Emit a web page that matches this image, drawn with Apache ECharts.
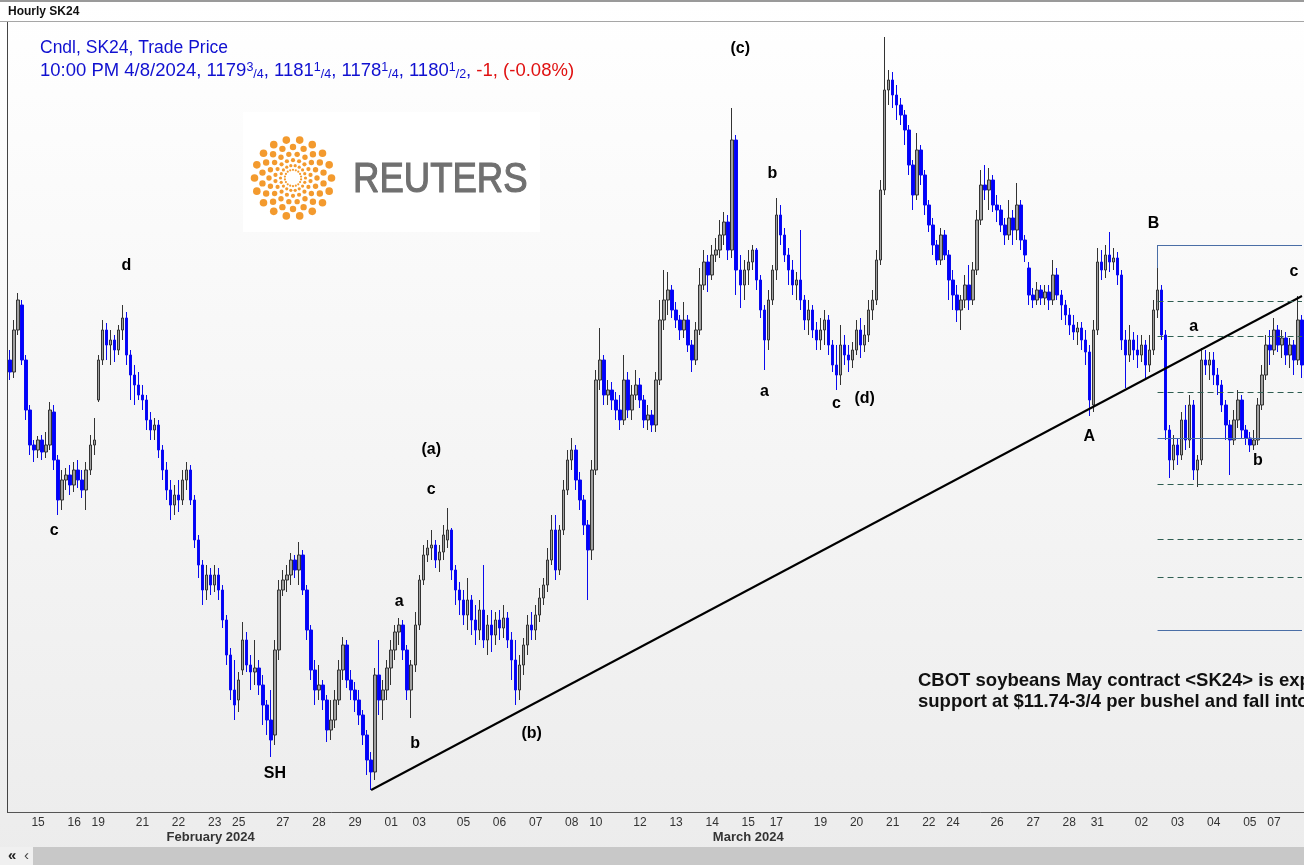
<!DOCTYPE html>
<html><head><meta charset="utf-8">
<script src="https://cdn.jsdelivr.net/npm/echarts@6/dist/echarts.min.js"></script>
<style>html,body{margin:0;padding:0;background:#fff;overflow:hidden}#c{width:1304px;height:865px}</style>
</head><body><div id="c"></div>
<script>
// ---- day labels on the time axis and number of hourly bars drawn for each ----
const dayLabels = ['14','15','16','19','21','22','23','25','27','28','29','01','03','05','06','07','08','10','12','13','14','15','17','19','20','21','22','24','26','27','28','31','02','03','04','05','07'];
const dayBarCounts = [7,9,6,11,9,9,6,11,9,9,9,7,11,9,9,9,6,11,9,9,9,7,11,9,9,9,6,11,9,9,7,11,9,9,9,6,8];
const monthNames = ['February 2024','March 2024'];
const monthLabelBar = [50, 184];
const monthStartBar = [95, 273];

// ---- candles: [open, close, low, high] ----
const bars = [
[1180,1178.8,1178,1181],[1178.8,1183,1178.2,1184],[1183,1186,1182.5,1186.7],[1185.5,1180,1179.5,1186],[1180,1175,1174,1180.5],[1175,1171.5,1170.5,1175.5],[1171.5,1171,1169.8,1172],
[1171,1172,1170.2,1172.4],[1172,1170.8,1170,1172.5],[1170.8,1171.5,1170.2,1172.8],[1171.5,1175,1171,1175.8],[1174.8,1170,1169,1175.5],[1170,1166,1164.5,1170.5],[1166,1168,1165,1169],[1168,1168.5,1167,1169.2],[1168.5,1167.5,1166.5,1169.5],
[1167.5,1169,1166.8,1169.8],[1169,1168,1167.2,1170],[1168,1167,1166.2,1169],[1167,1169,1165,1169.8],[1169,1171.5,1168.5,1172.5],[1171.5,1172,1170.5,1174.2],
[1176,1180,1175.8,1180.5],[1180,1183,1179.5,1184],[1183,1181.5,1180,1183.7],[1181.5,1182,1179.5,1183],[1182,1181,1179.8,1182.5],[1181,1183,1180.5,1183.5],[1183,1184.2,1182,1185.5],[1184.2,1180.5,1179.5,1184.8],[1180.5,1178.5,1176,1181],[1178.5,1177.5,1175.5,1179.5],[1177.5,1176.5,1176,1178.8],
[1176.5,1176,1175,1177.5],[1176,1174,1173,1176.5],[1174,1173,1172,1174.8],[1173,1173.5,1172,1174.2],[1173.5,1171,1170.2,1174],[1171,1169,1168,1171.5],[1169,1167,1166,1169.8],[1167,1165.5,1164,1168],[1165.5,1166.5,1164.5,1167.5],
[1166.5,1166,1164.8,1168],[1166,1168,1165.5,1169],[1168,1169,1167,1169.8],[1169,1166,1165.5,1169.5],[1166,1162,1161.2,1166.5],[1162,1159.5,1158.2,1162.5],[1159.5,1157,1155.5,1160],[1157,1158.5,1156,1159.5],[1158.5,1157.5,1156.5,1159.2],
[1157.5,1158.5,1156.8,1159.5],[1158.5,1157,1156,1159.2],[1157,1154,1153.2,1157.5],[1154,1150.5,1149.5,1154.5],[1150.5,1147,1146,1151.2],[1147,1145.5,1144,1150],
[1146,1148,1144.8,1148.8],[1149,1152,1148.5,1153.8],[1152,1149.5,1148.8,1152.8],[1149.5,1148.8,1147,1150.5],[1148.8,1149.2,1147.5,1152],[1149.2,1147.5,1146.5,1150],[1147.5,1145.5,1143.5,1148.5],[1145.5,1144,1142.5,1146],[1144,1142,1140.3,1147],[1142.5,1151,1141.5,1152],[1151,1157,1150,1158],
[1157,1158,1156.4,1159],[1158,1158.5,1156.8,1159.5],[1158.5,1160,1157.5,1160.7],[1160,1159,1158.2,1160.5],[1159,1160.5,1157.5,1161.8],[1160.5,1157,1156.5,1161],[1157,1153,1152,1157.5],[1153,1149,1148,1153.5],[1149,1147,1145.5,1150],
[1147,1147.5,1146,1149.5],[1147.5,1146,1145,1148],[1146,1143,1141.8,1146.5],[1143,1144,1142,1146],[1144,1146,1143.2,1147],[1146,1149,1145.5,1150],[1149,1151.5,1148,1152.3],[1151.5,1148,1147.2,1152],[1148,1147,1146,1149],
[1147,1146,1144.8,1147.8],[1146,1144.5,1143.5,1147],[1144.5,1142.5,1141.5,1145],[1142.5,1140,1138.5,1143],[1140,1138.8,1137,1140.8],[1138.8,1148.5,1138,1149.2],[1148.5,1146,1144.5,1152],[1146,1147,1144,1148],[1147,1149.2,1146,1150],
[1149.2,1151,1147.5,1152],[1151,1152.8,1150,1153.5],[1152.8,1153.5,1151.5,1154.2],[1153.5,1151,1150,1154],[1151,1147,1146,1151.5],[1147,1149.5,1144.2,1150],[1149.5,1153.5,1148.8,1154.8],
[1153.5,1158,1153,1158.5],[1158,1160.5,1157.5,1161.5],[1160.5,1161.2,1159.8,1162],[1161.2,1161.5,1160,1163],[1161.5,1160,1159.2,1162],[1160,1160.8,1158.8,1161.5],[1160.8,1162.5,1160,1163.5],[1162,1163,1161.2,1165.2],[1163,1159,1158,1163.2],[1159,1157,1155.5,1159.5],[1157,1156,1154.5,1157.8],
[1156,1154.5,1153.5,1157],[1154.5,1156,1153,1158.2],[1156,1154,1152.5,1156.5],[1154,1153,1151.5,1155.5],[1153,1155,1152,1156],[1155,1152,1151.2,1159.5],[1152,1153.5,1150.5,1154.5],[1153.5,1152.5,1150.8,1155],[1152.5,1154,1151.5,1154.8],
[1154,1153.2,1152,1155],[1153.2,1154.2,1152.2,1155.5],[1154.2,1152,1151.2,1154.8],[1152,1150,1148,1152.8],[1150,1147,1145.5,1152],[1147,1149.5,1146,1150.5],[1149.5,1151.5,1148.5,1152.2],[1151.5,1153.5,1150.5,1154.5],[1153.5,1153,1152,1154.8],
[1153,1154.5,1152,1155.5],[1154.5,1156.2,1153.8,1157.2],[1156.2,1157.5,1155.5,1158.2],[1157.5,1160,1156.8,1161.2],[1160,1163,1159.5,1164.5],[1163,1159,1158,1164.5],[1159,1163,1158.5,1163.5],[1163,1167,1162.5,1168],[1167,1170,1166.5,1171],
[1170,1171,1169,1172.2],[1171,1168,1167,1171.5],[1168,1166,1165,1168.8],[1166,1163.5,1162.5,1166.5],[1163.5,1161,1156,1164],[1161,1169,1160,1170],
[1169,1178,1168.5,1179],[1178,1180,1177,1183.2],[1180,1176.5,1175.5,1180.5],[1176.5,1177,1175.5,1178],[1177,1176,1175,1177.8],[1176,1175,1174,1176.8],[1175,1174,1173,1176.5],[1174,1178,1173.5,1180.5],[1178,1175,1174.2,1178.8],[1175,1176.5,1174,1177.5],[1176.5,1177.5,1176,1179],
[1177.5,1176,1175.2,1178.2],[1176,1174,1173.2,1176.5],[1174,1174.5,1173,1175.5],[1174.5,1173.5,1172.8,1175],[1173.5,1178,1172.8,1178.8],[1178,1184,1177.5,1186],[1184,1186,1183,1189],[1186,1187,1184.5,1188.8],[1187,1185,1184.2,1187.5],
[1185,1184,1183.2,1185.8],[1184,1183,1182,1184.5],[1183,1184,1182.2,1185.8],[1184,1181.5,1180.8,1184.5],[1181.5,1180,1178.8,1182],[1180,1183,1179.5,1183.8],[1183,1187.5,1182.5,1189.2],[1187.5,1189.8,1187,1191],[1189.8,1188.5,1186.8,1190.5],
[1188.5,1190.5,1188,1191.5],[1190.5,1191,1189.8,1192.2],[1191,1192.5,1190.2,1194],[1192.5,1193.8,1191.5,1194.8],[1193.8,1191,1190,1194.5],[1191,1202,1190.2,1205.2],[1202,1189,1186.5,1202.5],[1189,1187.5,1185.2,1190.5],[1187.5,1189,1186,1190],
[1189,1189.8,1187.5,1191],[1189.8,1191,1189,1191.5],[1191,1188,1187,1191.2],[1188,1185,1184.2,1188.5],[1185,1182,1179,1185.5],[1182,1186,1181,1187],[1186,1189,1185.5,1189.5],
[1189,1194.5,1188,1196.2],[1194.5,1192.5,1191.5,1195.5],[1192.5,1190.5,1189.8,1193.2],[1190.5,1189,1187.5,1191.2],[1189,1187.5,1186.5,1190],[1187.5,1188,1186,1188.8],[1188,1186,1185,1193],[1186,1184,1183,1186.5],[1184,1185,1182.5,1186],[1185,1183,1182.2,1185.5],[1183,1182,1181,1183.8],
[1182,1183,1181,1184.2],[1183,1184,1181.5,1185],[1184,1181.5,1180.5,1184.5],[1181.5,1179.5,1178.8,1182],[1179.5,1178.5,1177,1181.5],[1178.5,1181.5,1177.5,1183.5],[1181.5,1180.5,1179.5,1182.5],[1180.5,1180,1178.8,1181.5],[1180,1181,1179.2,1181.8],
[1181,1183,1180.5,1184],[1183,1181.5,1180.2,1184.2],[1181.5,1182.5,1180.8,1183.5],[1182.5,1185,1181.8,1186],[1185,1186,1184,1187],[1186,1190,1185.5,1191],[1190,1197,1189.5,1198],[1197,1207,1196.5,1212.3],[1207,1208,1205.5,1209],
[1208,1206.5,1205.2,1208.8],[1206.5,1205.5,1204,1207.5],[1205.5,1204.5,1203.5,1206.2],[1204.5,1203,1201.5,1205],[1203,1199.5,1198.5,1203.5],[1199.5,1196.5,1195,1200],[1196.5,1201,1196,1202.7],[1201,1198.5,1197.5,1201.5],[1198.5,1195.5,1194.5,1199],
[1195.5,1193.5,1192.8,1196],[1193.5,1191.5,1190.5,1194.2],[1191.5,1190,1189.5,1192],[1190,1192.5,1189.5,1193.2],[1192.5,1190.5,1190,1193],[1190.5,1188,1186,1191],
[1188,1186.5,1185,1189],[1186.5,1185,1183.8,1187.5],[1185,1186,1183,1186.5],[1186,1187.5,1185.2,1188.5],[1187.5,1186,1185,1189.5],[1186,1189,1185.5,1189.8],[1189,1194,1188.5,1195],[1194,1197.5,1193.5,1199],[1197.5,1197,1196,1199.5],[1197,1198,1195,1199.2],[1198,1195.5,1194.8,1198.5],
[1195.5,1195,1193.8,1196.5],[1195,1193.5,1192.8,1195.5],[1193.5,1192.5,1191.5,1194.2],[1192.5,1194.2,1192,1196],[1194.2,1193,1191.5,1195],[1193,1195.5,1192,1197.7],[1195.5,1192,1191,1196],[1192,1190.5,1189.8,1192.5],[1189.2,1186.5,1185.5,1189.8],
[1186.5,1186,1185.2,1187.2],[1186,1187,1185.5,1187.8],[1187,1186.2,1185.5,1187.5],[1186.2,1186.8,1185.5,1187.5],[1186.8,1186,1185,1187.5],[1186,1188.5,1185.5,1190],[1188.5,1186.5,1186,1189.2],[1186.5,1185.5,1184,1187],[1185.5,1184.5,1183.5,1186],
[1184.5,1183.5,1182.5,1185.2],[1183.5,1182.8,1182,1184.5],[1182.8,1183.2,1181.5,1183.8],[1183.2,1182,1181,1183.8],[1182,1180.8,1179.5,1183],[1180.8,1176,1174.4,1181.5],[1175.5,1183,1174.8,1184],
[1183,1189.8,1182.5,1191.2],[1189.8,1189,1188,1191],[1189,1190.5,1188.2,1191.5],[1190.5,1189.8,1188.8,1192.8],[1189.8,1190.2,1189,1191.2],[1190.2,1188.5,1187.5,1190.8],[1188.5,1182,1181,1189],[1182,1180.5,1177.2,1183],[1180.5,1182,1179.8,1183.5],[1182,1181,1180,1182.8],[1181,1180.5,1179.2,1182.5],
[1180.5,1181.5,1179.8,1182.5],[1181.5,1179.5,1178.2,1182],[1179.5,1181,1178.8,1182.5],[1181,1185,1180.5,1186],[1185,1187,1184.2,1189.2],[1187,1182.5,1182,1187.5],[1182.5,1173,1172,1183],[1173,1170,1168.2,1173.5],[1170,1171.5,1169,1172.5],
[1171.5,1170.5,1169.5,1172.2],[1170.5,1174,1170,1174.8],[1174,1172,1171,1175.5],[1172,1175.5,1171.2,1176.5],[1175.5,1169,1168,1176],[1169,1170,1167.3,1170.5],[1170,1180,1169.5,1181.2],[1180,1179.5,1178.5,1181],[1179.5,1180,1178,1180.8],
[1180,1178.5,1177.5,1180.8],[1178.5,1177.5,1176.5,1179.2],[1177.5,1175.5,1174.8,1178],[1175.5,1173.5,1172,1176],[1173.5,1172,1168.5,1174],[1172,1174,1171.5,1175],[1174,1176,1173.2,1177],[1176,1173,1172.2,1176.5],[1173,1172.2,1171.5,1173.5],
[1172.2,1171.5,1170.8,1172.8],[1171.5,1172,1171,1173],[1172,1175.5,1171.5,1176.2],[1175.5,1178.5,1175,1179.5],[1178.5,1181.5,1178,1182.5],[1181.5,1181,1179.5,1183],
[1181,1183,1180.5,1184.2],[1183,1181.5,1180.8,1183.5],[1181.5,1182.2,1180.2,1183],[1182.2,1180.5,1179.5,1182.8],[1180.5,1181.5,1179.2,1182.2],[1181.5,1180,1178.5,1182],[1180,1184,1179.5,1186.4],[1184,1179.5,1178.2,1184.5]
];

// ---- drawn studies ----
const trendLine = [[90, 1137], [322, 1186.4]];
const fibStartBar = 286;
const fibEndBar = 322;
const fibLevels = [1191.5, 1185.9, 1182.4, 1176.8, 1172.2, 1167.6, 1162.1, 1158.3, 1153];
const fibSolid  = [true, false, false, false, true, false, false, false, true];
const fibAnchorHigh = 1189.2;

// ---- wave annotations: [bar index, price, text] ----
const waveLabels = [
 [182,1211.1,'(c)'],[190,1198.6,'b'],[29,1189.4,'d'],[11,1162.9,'c'],[66,1138.6,'SH'],
 [97,1155.8,'a'],[101,1141.6,'b'],[105,1171,'(a)'],[105,1167,'c'],[130,1142.6,'(b)'],
 [188,1176.8,'a'],[206,1175.6,'c'],[213,1176.1,'(d)'],[269,1172.3,'A'],[285,1193.6,'B'],
 [295,1183.3,'a'],[311,1169.9,'b'],[320,1188.8,'c']
];

// ---- build categories ----
const cats = [], dayOfBar = [], dayStart = new Set();
let k = 0;
dayLabels.forEach((d, di) => {
  dayStart.add(k);
  for (let j = 0; j < dayBarCounts[di]; j++) { cats.push('bar' + k); dayOfBar.push(d); k++; }
});

const FONT = 'Liberation Sans, Arial, sans-serif';
const chart = echarts.init(document.getElementById('c'), null, {renderer: 'canvas'});

const markData = [];
markData.push([{coord: trendLine[0], lineStyle: {color: '#000', width: 2, type: 'solid'}}, {coord: trendLine[1]}]);
fibLevels.forEach((lv, i) => {
  markData.push([{coord: [fibStartBar, lv], lineStyle: fibSolid[i] ? {color: '#4a6ea6', width: 1, type: 'solid'} : {color: '#2f5e52', width: 1, type: [6, 4]}}, {coord: [fibEndBar, lv]}]);
});
markData.push([{coord: [fibStartBar, fibLevels[0]], lineStyle: {color: '#4a6ea6', width: 1, type: 'solid'}}, {coord: [fibStartBar, fibAnchorHigh]}]);

// Reuters logo dots (decoration)
const logoEls = [{type: 'rect', shape: {x: 243, y: 112, width: 297, height: 120}, style: {fill: '#ffffff'}, silent: true}];
const rings = [[38.5, 3.8, 0], [31, 3.2, 0.5], [24, 2.7, 0], [17.8, 2.1, 0.5], [12.5, 1.6, 0], [8.2, 1.1, 0.5]];
rings.forEach(r => {
  const n = 18;
  for (let i = 0; i < n; i++) {
    const a = (i + r[2]) / n * Math.PI * 2;
    logoEls.push({type: 'circle', shape: {cx: 293 + r[0] * Math.cos(a), cy: 178 + r[0] * Math.sin(a), r: r[1]}, style: {fill: '#f39a2e'}, silent: true});
  }
});
logoEls.push({type: 'text', x: 353, y: 180, scaleX: 0.85, style: {x: 0, y: 0, text: 'REUTERS', fill: '#707070', stroke: '#707070', lineWidth: 1.2, font: '43px ' + FONT, textVerticalAlign: 'middle'}, silent: true});

const option = {
  animation: false,
  backgroundColor: new echarts.graphic.LinearGradient(0, 0, 0, 1, [{offset: 0, color: '#ffffff'}, {offset: 1, color: '#ececec'}]),
  grid: {left: 8, right: 0, top: 22, bottom: 53, containLabel: false},
  xAxis: [
    {type: 'category', data: cats, boundaryGap: true,
     axisLine: {lineStyle: {color: '#555', width: 1}},
     axisTick: {interval: (i) => dayStart.has(i) && i > 0, length: 4, lineStyle: {color: '#555'}},
     axisLabel: {interval: (i) => dayStart.has(i) && i > 0, formatter: (v, i) => dayOfBar[i], color: '#333', fontSize: 12, fontFamily: FONT, margin: 5},
     splitLine: {show: false}},
    {type: 'category', data: cats, boundaryGap: true, position: 'bottom', offset: 14,
     axisLine: {show: false},
     axisTick: {interval: (i) => monthStartBar.includes(i), length: 20, lineStyle: {color: '#444'}},
     axisLabel: {interval: (i) => monthLabelBar.includes(i), formatter: (v, i) => monthNames[monthLabelBar.indexOf(i)] || '', color: '#333', fontSize: 13, fontWeight: 'bold', fontFamily: FONT, margin: 5},
     splitLine: {show: false}}
  ],
  yAxis: {type: 'value', show: false, min: 1134.8, max: 1213.8, scale: true, splitLine: {show: false}},
  series: [
    {type: 'candlestick', data: bars, barWidth: 3, xAxisIndex: 0,
     itemStyle: {color: '#a0a0a0', color0: '#0000ff', borderColor: '#333333', borderColor0: '#0a0aee', borderWidth: 1},
     markLine: {silent: true, symbol: ['none', 'none'], label: {show: false}, animation: false, data: markData}},
    {type: 'scatter', xAxisIndex: 0, symbolSize: 0, silent: true, z: 5,
     itemStyle: {opacity: 1},
     data: waveLabels.map(w => [w[0], w[1], w[2]]),
     label: {show: true, position: 'inside', formatter: p => p.value[2], color: '#000', opacity: 1, fontSize: 16, fontWeight: 'bold', fontFamily: FONT}}
  ],
  graphic: [
    {type: 'rect', shape: {x: 0, y: 0, width: 1304, height: 2}, style: {fill: '#9a9a9a'}, silent: true},
    {type: 'rect', shape: {x: 0, y: 21, width: 1304, height: 1}, style: {fill: '#a6a6a6'}, silent: true},
    {type: 'rect', shape: {x: 7, y: 22, width: 1, height: 791}, style: {fill: '#444'}, silent: true},
    {type: 'text', style: {x: 8, y: 12, text: 'Hourly SK24', font: 'bold 12px ' + FONT, fill: '#111', textVerticalAlign: 'middle'}, silent: true},
    {type: 'text', style: {x: 40, y: 48, text: 'Cndl, SK24, Trade Price', font: '17.5px ' + FONT, fill: '#1010d0', textVerticalAlign: 'middle'}, silent: true},
    {type: 'text', style: {x: 40, y: 71, textVerticalAlign: 'middle',
      text: '{m|10:00 PM 4/8/2024, 1179}{s|3}{f|/4}{m|, 1181}{s|1}{f|/4}{m|, 1178}{s|1}{f|/4}{m|, 1180}{s|1}{f|/2}{m|, }{r|-1, (-0.08%)}',
      rich: {
        m: {fill: '#1010d0', font: '18.5px ' + FONT, lineHeight: 20},
        s: {fill: '#1010d0', font: '12.5px ' + FONT, verticalAlign: 'top', lineHeight: 20},
        f: {fill: '#1010d0', font: '12.5px ' + FONT, verticalAlign: 'bottom', lineHeight: 20},
        r: {fill: '#e01010', font: '18.5px ' + FONT, lineHeight: 20}
      }}, silent: true},
    ...logoEls,
    {type: 'text', style: {x: 918, y: 681, text: 'CBOT soybeans May contract <SK24> is expected to', font: 'bold 18.5px ' + FONT, fill: '#111', textVerticalAlign: 'middle'}, silent: true},
    {type: 'text', style: {x: 918, y: 702, text: 'support at $11.74-3/4 per bushel and fall into', font: 'bold 18.5px ' + FONT, fill: '#111', textVerticalAlign: 'middle'}, silent: true},
    {type: 'rect', shape: {x: 0, y: 847, width: 1304, height: 18}, style: {fill: '#f0f0f0'}, silent: true},
    {type: 'rect', shape: {x: 33, y: 847, width: 1271, height: 18}, style: {fill: '#c8c8c8'}, silent: true},
    {type: 'text', style: {x: 8, y: 856, text: '\u00ab', font: 'bold 15px ' + FONT, fill: '#222', textVerticalAlign: 'middle'}, silent: true},
    {type: 'text', style: {x: 24, y: 856, text: '\u2039', font: '15px ' + FONT, fill: '#444', textVerticalAlign: 'middle'}, silent: true}
  ]
};
chart.setOption(option);
</script>
</body></html>
